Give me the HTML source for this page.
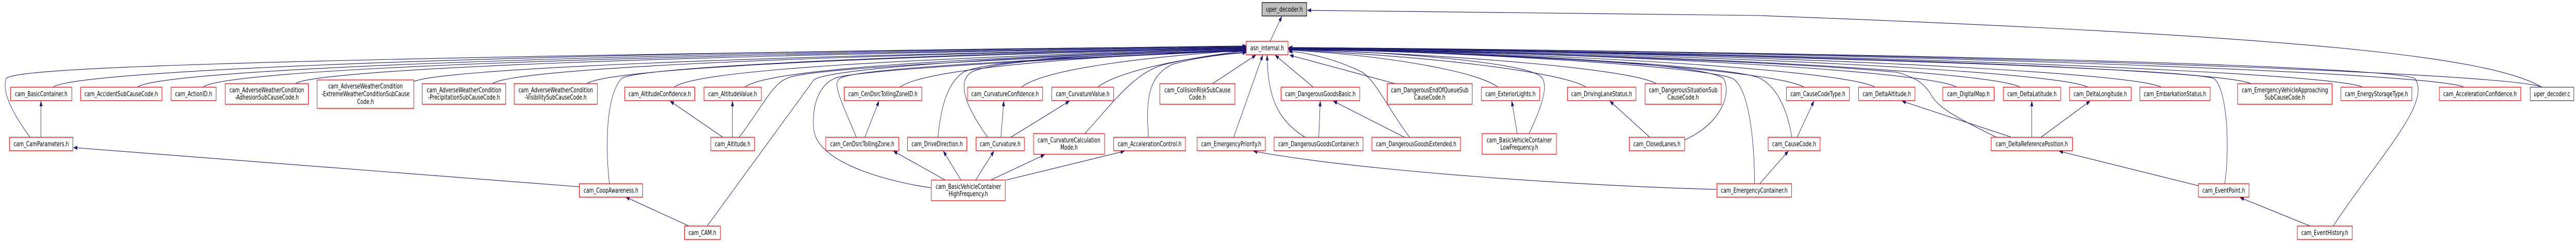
<!DOCTYPE html>
<html><head><meta charset="utf-8"><style>
html,body{margin:0;padding:0;background:#fff;width:7034px;height:469px;overflow:hidden;}
svg{display:block;position:absolute;left:0;top:0;width:100vw;height:100vh;}
.n rect{fill:#fff;stroke:#ff0000;stroke-width:1.3;}
text{font-family:"DejaVu Sans","Liberation Sans",sans-serif;font-size:13px;fill:#000;text-anchor:middle;}
.e{fill:none;stroke:#191970;stroke-width:1.1;}
</style></head><body>
<svg viewBox="0 0 7034 469" preserveAspectRatio="none" xmlns="http://www.w3.org/2000/svg">
<defs><marker id="a" markerWidth="11" markerHeight="8" refX="10" refY="4" orient="auto" markerUnits="userSpaceOnUse"><path d="M0,0 L11,4 L0,8 z" fill="#191970"/></marker></defs>
<g class="e" marker-end="url(#a)">
<path d="M145,169 C200,135 1500,100 3403,90"/>
<path d="M375,169 C430,135 1600,102 3403,91"/>
<path d="M555,169 C600,135 1700,104 3403,92"/>
<path d="M807,162 C860,135 1800,106 3403,92"/>
<path d="M1130,158 C1200,135 2000,108 3403,93"/>
<path d="M1345,162 C1400,135 2100,108 3403,93"/>
<path d="M1602,162 C1660,135 2300,110 3403,94"/>
<path d="M1841,169 C1900,135 2500,112 3403,94"/>
<path d="M2034,169 C2090,135 2600,112 3403,95"/>
<path d="M2457,169 C2520,135 2900,112 3403,96"/>
<path d="M2789,169 C2850,135 3100,112 3403,97"/>
<path d="M2997,169 C3060,135 3250,112 3403,98"/>
<path d="M82,266 C40,225 3,180 17,152 C40,135 400,115 3403,89"/>
<path d="M1664,356 C1655,300 1650,190 1697,152 C1750,125 2800,100 3403,93"/>
<path d="M1931,438 L2222,155 C2260,130 2900,105 3403,95"/>
<path d="M2017,267 C2070,220 2110,160 2149,152 C2200,130 2900,110 3403,96"/>
<path d="M2339,267 C2300,200 2270,160 2294,152 C2330,130 3000,110 3403,97"/>
<path d="M2543,364 C2450,355 2230,320 2222,250 C2215,190 2250,160 2279,152 C2320,135 3000,110 3403,98"/>
<path d="M2561,267 C2570,200 2590,160 2630,140 C2700,115 3100,100 3403,99"/>
<path d="M2698,267 C2640,210 2610,160 2652,140 C2720,115 3100,100 3403,100"/>
<path d="M2962,259 C3050,190 3100,140 3180,125 C3250,112 3350,104 3403,101"/>
<path d="M3136,267 C3130,200 3130,150 3200,125 C3270,110 3360,104 3403,102"/>
<path d="M3311,162 L3429,107"/>
<path d="M3368,267 L3448,107"/>
<path d="M3566,267 C3480,230 3462,180 3460,107"/>
<path d="M3586,169 L3482,107"/>
<path d="M3468,80 L3500,32"/>
<path d="M3809,162 L3522,107"/>
<path d="M3850,267 C3790,210 3760,160 3720,140 C3650,115 3560,100 3519,100"/>
<path d="M4090,169 C4040,140 3800,108 3519,97"/>
<path d="M4331,169 C4270,140 3900,108 3519,97"/>
<path d="M4522,162 C4460,135 4000,106 3519,96"/>
<path d="M4175,259 C4215,200 4230,160 4205,147 C4150,120 3800,100 3519,96"/>
<path d="M4600,271 C4700,240 4730,180 4706,152 C4650,120 4000,100 3519,96"/>
<path d="M4791,356 C4790,250 4770,170 4733,153 C4680,130 4000,100 3519,95"/>
<path d="M4893,267 C4880,210 4850,165 4800,150 C4700,125 4000,100 3519,95"/>
<path d="M4926,169 C4860,140 4300,106 3519,95"/>
<path d="M5120,169 C5050,140 4400,105 3519,94"/>
<path d="M5343,169 C5280,140 4500,104 3519,94"/>
<path d="M5516,169 C5450,140 4600,104 3519,94"/>
<path d="M5701,169 C5630,140 4700,103 3519,94"/>
<path d="M5902,169 C5830,140 4800,102 3519,93"/>
<path d="M6146,162 C6070,135 4900,102 3519,93"/>
<path d="M6451,169 C6380,140 5000,101 3519,93"/>
<path d="M6728,169 C6650,140 5100,100 3519,92"/>
<path d="M6941,169 C6860,140 5200,100 3519,92"/>
<path d="M5454,267 C5350,230 5290,210 5270,180 C5250,160 5230,150 5180,140 C4800,115 4000,100 3519,94"/>
<path d="M6075,356 C6090,280 6080,170 6045,152 C5950,130 4500,100 3519,93"/>
<path d="M6371,438 C6500,300 6640,200 6594,152 C6500,125 5000,100 3519,93"/>
<path d="M6941,169 C6800,110 6300,70 4800,30 C4200,22 3800,20 3570,20"/>
<path d="M1582,362 L201,286"/>
<path d="M112,266 L112,196"/>
<path d="M1881,438 L1709,382"/>
<path d="M1976,267 L1830,196"/>
<path d="M2000,266 L2000,196"/>
<path d="M2361,267 L2400,196"/>
<path d="M2581,349 L2440,293"/>
<path d="M2624,349 L2576,293"/>
<path d="M2664,349 L2714,293"/>
<path d="M2705,349 L2852,300"/>
<path d="M2747,349 L3070,293"/>
<path d="M2733,266 L2741,196"/>
<path d="M2760,266 L2920,196"/>
<path d="M3601,266 L3605,196"/>
<path d="M3835,266 L3641,196"/>
<path d="M4688,367 C4300,360 3700,330 3423,293"/>
<path d="M4143,259 L4128,196"/>
<path d="M4505,266 L4396,196"/>
<path d="M4805,356 L4883,293"/>
<path d="M4907,266 L4953,196"/>
<path d="M5493,266 L5194,196"/>
<path d="M5548,266 L5548,196"/>
<path d="M5573,266 L5707,196"/>
<path d="M6003,360 L5623,293"/>
<path d="M6308,438 L6117,383"/>
</g>
<g>
<rect x="3446" y="5" width="122" height="26" fill="#bfbfbf" stroke="#000" stroke-width="1.3"/>
<text x="3507" y="22.5">uper_decoder.h</text>
<rect x="6909" y="169" width="119" height="26" fill="#fff" stroke="#404040" stroke-width="1.3"/>
<text x="6968.5" y="186.5">uper_decoder.c</text>
</g>
<g class="n">
<rect x="3403" y="80" width="114" height="26"/><text x="3460" y="97.5">asn_internal.h</text>
<rect x="29" y="169" width="167" height="26"/><text x="112.5" y="186.5">cam_BasicContainer.h</text>
<rect x="220" y="169" width="222" height="26"/><text x="331" y="186.5">cam_AccidentSubCauseCode.h</text>
<rect x="467" y="169" width="123" height="26"/><text x="528.5" y="186.5">cam_ActionID.h</text>
<rect x="615" y="162" width="227" height="40"/><text x="728.5" y="179">cam_AdverseWeatherCondition</text><text x="728.5" y="193">-AdhesionSubCauseCode.h</text>
<rect x="866" y="155" width="264" height="55"/><text x="998" y="171.5">cam_AdverseWeatherCondition</text><text x="998" y="186.5">-ExtremeWeatherConditionSubCause</text><text x="998" y="201.5">Code.h</text>
<rect x="1153" y="162" width="228" height="40"/><text x="1267" y="179">cam_AdverseWeatherCondition</text><text x="1267" y="193">-PrecipitationSubCauseCode.h</text>
<rect x="1404" y="162" width="227" height="40"/><text x="1517.5" y="179">cam_AdverseWeatherCondition</text><text x="1517.5" y="193">-VisibilitySubCauseCode.h</text>
<rect x="1706" y="169" width="191" height="26"/><text x="1801.5" y="186.5">cam_AltitudeConfidence.h</text>
<rect x="1922" y="169" width="157" height="26"/><text x="2000.5" y="186.5">cam_AltitudeValue.h</text>
<rect x="2305" y="169" width="212" height="26"/><text x="2411" y="186.5">cam_CenDsrcTollingZoneID.h</text>
<rect x="2642" y="169" width="205" height="26"/><text x="2744.5" y="186.5">cam_CurvatureConfidence.h</text>
<rect x="2872" y="169" width="169" height="26"/><text x="2956.5" y="186.5">cam_CurvatureValue.h</text>
<rect x="3167" y="162" width="205" height="40"/><text x="3269.5" y="179">cam_CollisionRiskSubCause</text><text x="3269.5" y="193">Code.h</text>
<rect x="3498" y="169" width="215" height="26"/><text x="3605.5" y="186.5">cam_DangerousGoodsBasic.h</text>
<rect x="3788" y="162" width="232" height="40"/><text x="3904" y="179">cam_DangerousEndOfQueueSub</text><text x="3904" y="193">CauseCode.h</text>
<rect x="4045" y="169" width="159" height="26"/><text x="4124.5" y="186.5">cam_ExteriorLights.h</text>
<rect x="4280" y="169" width="187" height="26"/><text x="4373.5" y="186.5">cam_DrivingLaneStatus.h</text>
<rect x="4492" y="162" width="208" height="40"/><text x="4596" y="179">cam_DangerousSituationSub</text><text x="4596" y="193">CauseCode.h</text>
<rect x="4878" y="169" width="172" height="26"/><text x="4964" y="186.5">cam_CauseCodeType.h</text>
<rect x="5075" y="169" width="154" height="26"/><text x="5152" y="186.5">cam_DeltaAltitude.h</text>
<rect x="5305" y="169" width="140" height="26"/><text x="5375" y="186.5">cam_DigitalMap.h</text>
<rect x="5470" y="169" width="157" height="26"/><text x="5548.5" y="186.5">cam_DeltaLatitude.h</text>
<rect x="5651" y="169" width="168" height="26"/><text x="5735" y="186.5">cam_DeltaLongitude.h</text>
<rect x="5843" y="169" width="192" height="26"/><text x="5939" y="186.5">cam_EmbarkationStatus.h</text>
<rect x="6110" y="162" width="258" height="40"/><text x="6239" y="179">cam_EmergencyVehicleApproaching</text><text x="6239" y="193">SubCauseCode.h</text>
<rect x="6392" y="169" width="194" height="26"/><text x="6489" y="186.5">cam_EnergyStorageType.h</text>
<rect x="6661" y="169" width="222" height="26"/><text x="6772" y="186.5">cam_AccelerationConfidence.h</text>
<rect x="26" y="266" width="173" height="26"/><text x="112.5" y="283.5">cam_CamParameters.h</text>
<rect x="1941" y="266" width="119" height="26"/><text x="2000.5" y="283.5">cam_Altitude.h</text>
<rect x="2255" y="266" width="199" height="26"/><text x="2354.5" y="283.5">cam_CenDsrcTollingZone.h</text>
<rect x="2478" y="266" width="162" height="26"/><text x="2559" y="283.5">cam_DriveDirection.h</text>
<rect x="2665" y="266" width="132" height="26"/><text x="2731" y="283.5">cam_Curvature.h</text>
<rect x="2822" y="259" width="194" height="40"/><text x="2919" y="276">cam_CurvatureCalculation</text><text x="2919" y="290">Mode.h</text>
<rect x="3041" y="266" width="196" height="26"/><text x="3139" y="283.5">cam_AccelerationControl.h</text>
<rect x="3269" y="266" width="186" height="26"/><text x="3362" y="283.5">cam_EmergencyPriority.h</text>
<rect x="3479" y="266" width="243" height="26"/><text x="3600.5" y="283.5">cam_DangerousGoodsContainer.h</text>
<rect x="3746" y="266" width="242" height="26"/><text x="3867" y="283.5">cam_DangerousGoodsExtended.h</text>
<rect x="4047" y="259" width="203" height="40"/><text x="4148.5" y="276">cam_BasicVehicleContainer</text><text x="4148.5" y="290">LowFrequency.h</text>
<rect x="4449" y="266" width="151" height="26"/><text x="4524.5" y="283.5">cam_ClosedLanes.h</text>
<rect x="4828" y="266" width="142" height="26"/><text x="4899" y="283.5">cam_CauseCode.h</text>
<rect x="5437" y="266" width="222" height="26"/><text x="5548" y="283.5">cam_DeltaReferencePosition.h</text>
<rect x="1582" y="356" width="173" height="26"/><text x="1668.5" y="373.5">cam_CoopAwareness.h</text>
<rect x="2543" y="349" width="202" height="40"/><text x="2644" y="366">cam_BasicVehicleContainer</text><text x="2644" y="380">HighFrequency.h</text>
<rect x="4688" y="356" width="204" height="26"/><text x="4790" y="373.5">cam_EmergencyContainer.h</text>
<rect x="6003" y="356" width="138" height="26"/><text x="6072" y="373.5">cam_EventPoint.h</text>
<rect x="1869" y="438" width="98" height="26"/><text x="1918" y="455.5">cam_CAM.h</text>
<rect x="6273" y="438" width="150" height="26"/><text x="6348" y="455.5">cam_EventHistory.h</text>
</g>
</svg>
</body></html>
